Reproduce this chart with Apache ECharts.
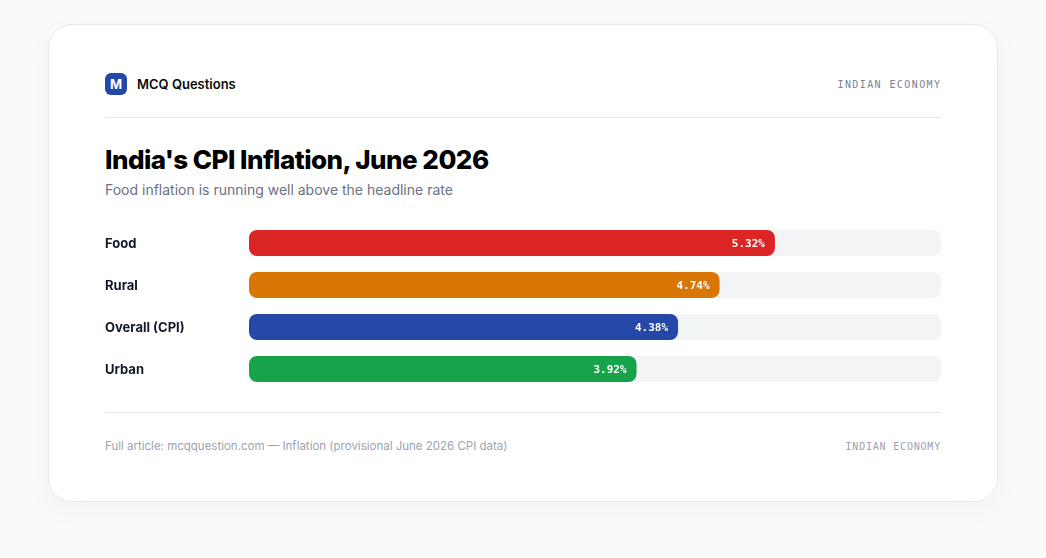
<!DOCTYPE html>
<html><head><meta charset="utf-8">
<script src="https://cdn.jsdelivr.net/npm/echarts@6/dist/echarts.min.js"></script>
<style>
html,body{margin:0;padding:0;width:1046px;height:558px;background:#fafaf8;overflow:hidden;font-family:Inter,sans-serif}
.card{position:absolute;left:48px;top:24px;width:948px;height:476px;background:#fff;border:1px solid #e9e9e7;border-radius:24px;box-shadow:0 8px 30px rgba(0,0,0,.035)}
.t{position:absolute;white-space:nowrap;line-height:1}
.rule{position:absolute;left:105px;width:836px;height:1px;background:#e5e7eb}
.logo{position:absolute;left:105px;top:73px;width:22px;height:22px;border-radius:6px;background:#2547a8;color:#fff;font-weight:700;font-size:13px;line-height:23px;text-align:center}
.mono{font-family:"DejaVu Sans Mono",monospace;font-size:10px}
#chart{position:absolute;left:0;top:0;width:1046px;height:558px}
</style></head><body>
<div class="card"></div>
<div class="logo">M</div>
<div class="t" style="left:137px;top:78px;font-size:13px;font-weight:600;color:#0a0a0a">MCQ Questions</div>
<div class="t mono" style="right:105px;top:80px;letter-spacing:1.4px;color:#7b8290;margin-right:-.4px">INDIAN ECONOMY</div>
<div class="rule" style="top:117px"></div>
<div class="t" style="left:105px;top:147px;font-size:26px;font-weight:800;letter-spacing:-0.52px;color:#000">India's CPI Inflation, June 2026</div>
<div class="t" style="left:105px;top:183px;font-size:14px;color:#6b7280">Food inflation is running well above the headline rate</div>
<div class="rule" style="top:412px"></div>
<div class="t" style="left:105px;top:440.5px;font-size:11.5px;color:#9ca3af">Full article: mcqquestion.com — Inflation (provisional June 2026 CPI data)</div>
<div class="t mono" style="right:105px;top:442px;letter-spacing:.8px;color:#9ca3af;margin-right:0">INDIAN ECONOMY</div>
<div id="chart"></div>
<script>
const categories = ['Food', 'Rural', 'Overall (CPI)', 'Urban'];
const barFillPercent = [76, 68, 62, 56];
const valueLabels = ['5.32%', '4.74%', '4.38%', '3.92%'];
const barColors = ['#dc2626', '#d97706', '#2547a8', '#16a34a'];

const chart = echarts.init(document.getElementById('chart'), null, {renderer: 'canvas'});
chart.setOption({
  backgroundColor: 'transparent',
  animation: false,
  grid: {left: 249, top: 222, width: 692, height: 168},
  xAxis: {type: 'value', min: 0, max: 100, show: false},
  yAxis: {
    type: 'category', inverse: true, data: categories,
    axisLine: {show: false}, axisTick: {show: false},
    axisLabel: {
      align: 'left', margin: 144, verticalAlign: 'top', lineHeight: 2,
      fontFamily: 'Inter', fontSize: 13, fontWeight: 700, color: '#111827'
    }
  },
  series: [{
    type: 'bar', barWidth: 26,
    showBackground: true,
    backgroundStyle: {color: '#f3f4f6', borderRadius: 8},
    data: barFillPercent.map((v, i) => ({
      value: v,
      itemStyle: {color: barColors[i], borderRadius: 8},
      label: {formatter: valueLabels[i]}
    })),
    label: {
      show: true, position: 'insideRight', distance: 10, offset: [0, 1],
      fontFamily: '"DejaVu Sans Mono", monospace', fontSize: 11, fontWeight: 700, color: '#fff'
    }
  }]
});
</script>
</body></html>
